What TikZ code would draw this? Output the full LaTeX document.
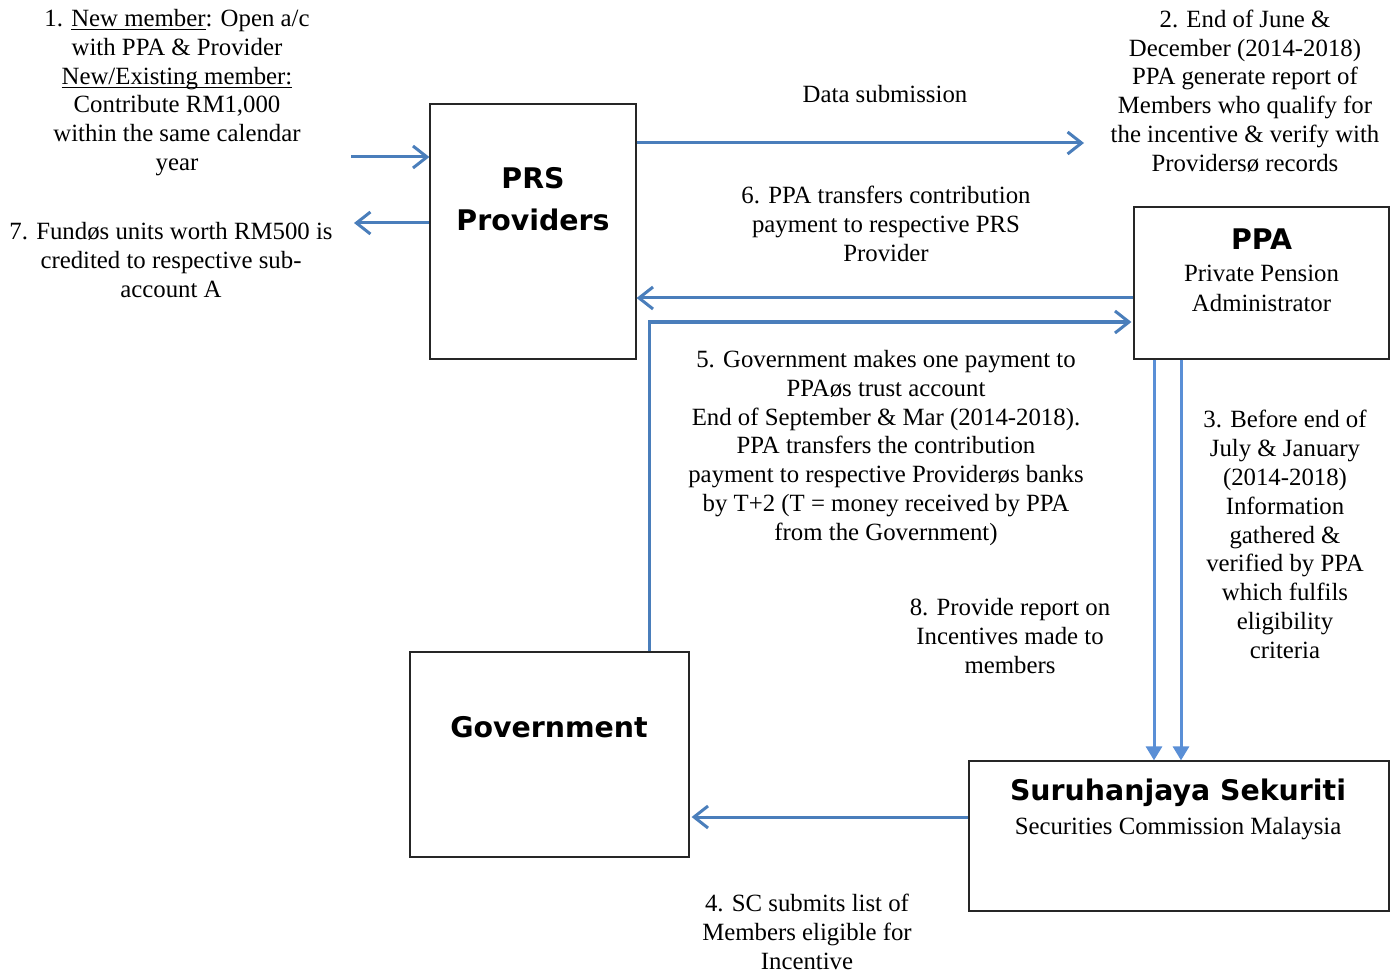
\documentclass[tikz,border=0pt]{standalone}
\usepackage{fontspec}
\setmainfont{Liberation Serif}
\newfontfamily\headfont{DejaVu Sans}
\usetikzlibrary{arrows.meta, calc}
\definecolor{flowblue}{HTML}{4A7EBB}
\definecolor{downblue}{HTML}{5A8FD6}
\newcommand{\hd}{\headfont\bfseries}
\newcommand{\ul}[1]{\underline{\smash{#1}}}
\tikzset{
box/.style={draw=black!85, line width=0.6pt, inner sep=0pt},
txt/.style={align=center, inner sep=0pt, font=\fontsize{12.4}{14.4}\selectfont},
head/.style={align=center, inner sep=0pt, font=\fontsize{14.2}{21}\selectfont\hd},
flow/.style={draw=flowblue, line width=1.5pt, -{Straight Barb[length=7pt,width=11pt]}},
flowdn/.style={draw=downblue, line width=1.5pt, -{Triangle[length=7pt,width=8pt]}},
}

\begin{document}
\begin{tikzpicture}[x=0.5pt, y=-0.5pt]
    \useasboundingbox (0,0) rectangle (1392,973);

    \node[box, minimum width=103pt, minimum height=127.5pt] (prs) at (533,231.5) {};
    \node[box, minimum width=127.5pt, minimum height=76pt] (ppa) at (1261.5,283) {};
    \node[box, minimum width=139.5pt, minimum height=102.5pt] (gov) at (549.5,754.5) {};
    \node[box, minimum width=210pt, minimum height=75pt] (sc) at (1179,836) {};

    \node[head] (prsname) at (533,199) {PRS\\Providers};
    \node[head] (ppaname) at (1261.5,239) {PPA};
    \node[txt, font=\fontsize{12.4}{15}\selectfont] (ppafull) at (1261.5,288) {Private Pension\\Administrator};
    \node[head] (govname) at (549,727) {Government};
    \node[head] (scname) at (1178,793) {Suruhanjaya Sekuriti};
    \node[txt] (scfull) at (1178,829) {Securities Commission Malaysia};

    \node[txt] (step1) at (177,93) {1. \ul{New member}: Open a/c\\with PPA \& Provider\\\ul{New/Existing member:}\\Contribute RM1,000\\within the same calendar\\year};
    \node[txt] (step2) at (1245,91) {2. End of June \&\\December (2014-2018)\\PPA generate report of\\Members who qualify for\\the incentive \& verify with\\Providersø records};
    \node[txt] (step7) at (171,260) {7. Fundøs units worth RM500 is\\credited to respective sub-\\account A};
    \node[txt] (datasub) at (885,94) {Data submission};
    \node[txt] (step6) at (886,224) {6. PPA transfers contribution\\payment to respective PRS\\Provider};
    \node[txt] (step5) at (886,448) {5. Government makes one payment to\\PPAøs trust account\\End of September \& Mar (2014-2018).\\PPA transfers the contribution\\payment to respective Providerøs banks\\by T+2 (T = money received by PPA\\from the Government)};
    \node[txt] (step3) at (1285,534.5) {3. Before end of\\July \& January\\(2014-2018)\\Information\\gathered \&\\verified by PPA\\which fulfils\\eligibility\\criteria};
    \node[txt] (step8) at (1010,636) {8. Provide report on\\Incentives made to\\members};
    \node[txt] (step4) at (807,932) {4. SC submits list of\\Members eligible for\\Incentive};

    \coordinate (member) at (351,157);
    \coordinate (credit) at (354,223);
    \coordinate (ppadata) at (1084,143);

    \draw[flow] (member) -- (member -| prs.west);
    \draw[flow] (credit -| prs.west) -- (credit);
    \draw[flow] (ppadata -| prs.east) -- (ppadata);
    \draw[flow] ($(ppa.west)+(0,15)$) coordinate (pay6) -- (pay6 -| prs.east);
    \draw[flow] ($(gov.north)+(99.5,0)$) |- ($(ppa.west)+(-2,39)$);
    \draw[flowdn] ($(ppa.south)+(-107.5,0)$) coordinate (rep8) -- (rep8 |- sc.north);
    \draw[flowdn] ($(ppa.south)+(-80.5,0)$) coordinate (info3) -- (info3 |- sc.north);
    \draw[flow] ($(sc.west)+(0,-19)$) coordinate (list4) -- ($(list4 -| gov.east)+(2,0)$);
\end{tikzpicture}
\end{document}
